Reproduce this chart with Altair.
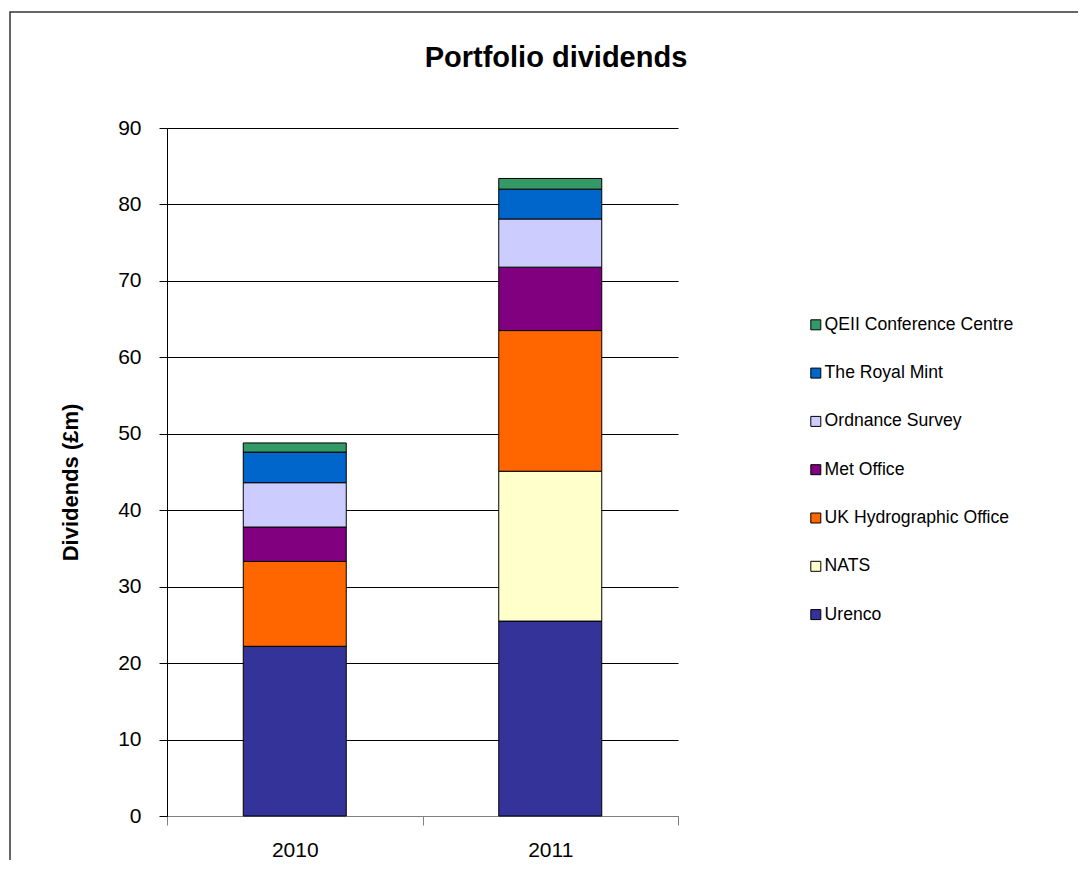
import altair as alt
import pandas as pd

years = ["2010", "2011"]
companies = ["Urenco", "NATS", "UK Hydrographic Office", "Met Office",
             "Ordnance Survey", "The Royal Mint", "QEII Conference Centre"]
colors = ["#333399", "#FFFFCC", "#FF6600", "#800080", "#CCCCFF", "#0066CC", "#339966"]
values_2010 = [22.2, 0.0, 11.1, 4.5, 5.8, 4.0, 1.2]
values_2011 = [25.5, 19.6, 18.4, 8.3, 6.3, 3.9, 1.4]
title_text = "Portfolio dividends"

rows = []
for i, c in enumerate(companies):
    rows.append({"Year": "2010", "Company": c, "Value": values_2010[i], "Order": i})
    rows.append({"Year": "2011", "Company": c, "Value": values_2011[i], "Order": i})
df = pd.DataFrame(rows)

FONT = "Liberation Sans"

bars = alt.Chart(df).mark_bar(stroke="black", strokeWidth=1, width=103).encode(
    x=alt.X("Year:N", sort=years, title=None,
            scale=alt.Scale(paddingInner=0, paddingOuter=0),
            axis=alt.Axis(labelAngle=0, labelFontSize=21, labelFont=FONT, labelColor="black",
                          tickBand="extent", tickSize=9, tickColor="#808080",
                          domainColor="#808080", labelPadding=14)),
    y=alt.Y("Value:Q", stack="zero", title="Dividends (£m)",
            scale=alt.Scale(domain=[0, 90], nice=False),
            axis=alt.Axis(values=list(range(0, 100, 10)), labelFontSize=21, labelFont=FONT,
                          labelColor="black", tickSize=8, tickColor="black",
                          domainColor="black", gridColor="black", gridWidth=1,
                          labelPadding=18, titleFont=FONT, titleFontSize=22,
                          titleFontWeight="bold", titleColor="black", titlePadding=35,
                          titleY=354)),
    color=alt.Color("Company:N", sort=companies,
                    scale=alt.Scale(domain=companies, range=colors),
                    legend=alt.Legend(title=None, orient="none", legendX=640, legendY=188,
                                      direction="vertical", labelFont=FONT, labelFontSize=17.6,
                                      labelColor="black", symbolType="square", symbolSize=100,
                                      symbolStrokeColor="black", symbolStrokeWidth=1,
                                      rowPadding=29.3, labelOffset=0, labelLimit=0,
                                      values=companies[::-1])),
    order=alt.Order("Order:Q", sort="ascending"),
)

frame = alt.Chart(pd.DataFrame({"a": [0]})).mark_rect(
    fill=None, stroke="#333333", strokeWidth=1.5, clip=False
).encode(
    x=alt.value(-157), y=alt.value(-116), x2=alt.value(1100), y2=alt.value(900)
)

title = alt.Chart(pd.DataFrame({"t": [title_text]})).mark_text(
    font=FONT, fontSize=29, fontWeight="bold", color="black",
    align="center", baseline="middle", clip=False
).encode(text="t:N", x=alt.value(389), y=alt.value(-70))

chart = alt.layer(frame, bars, title).properties(
    width=511, height=688,
    padding={"left": 159, "top": 120, "right": 400, "bottom": 44},
    autosize=alt.AutoSizeParams(type="none"),
).configure_view(stroke=None).configure_axis(grid=False).configure_axisY(grid=True)

chart.save("out.html", embed_options={"renderer": "svg", "actions": False})
